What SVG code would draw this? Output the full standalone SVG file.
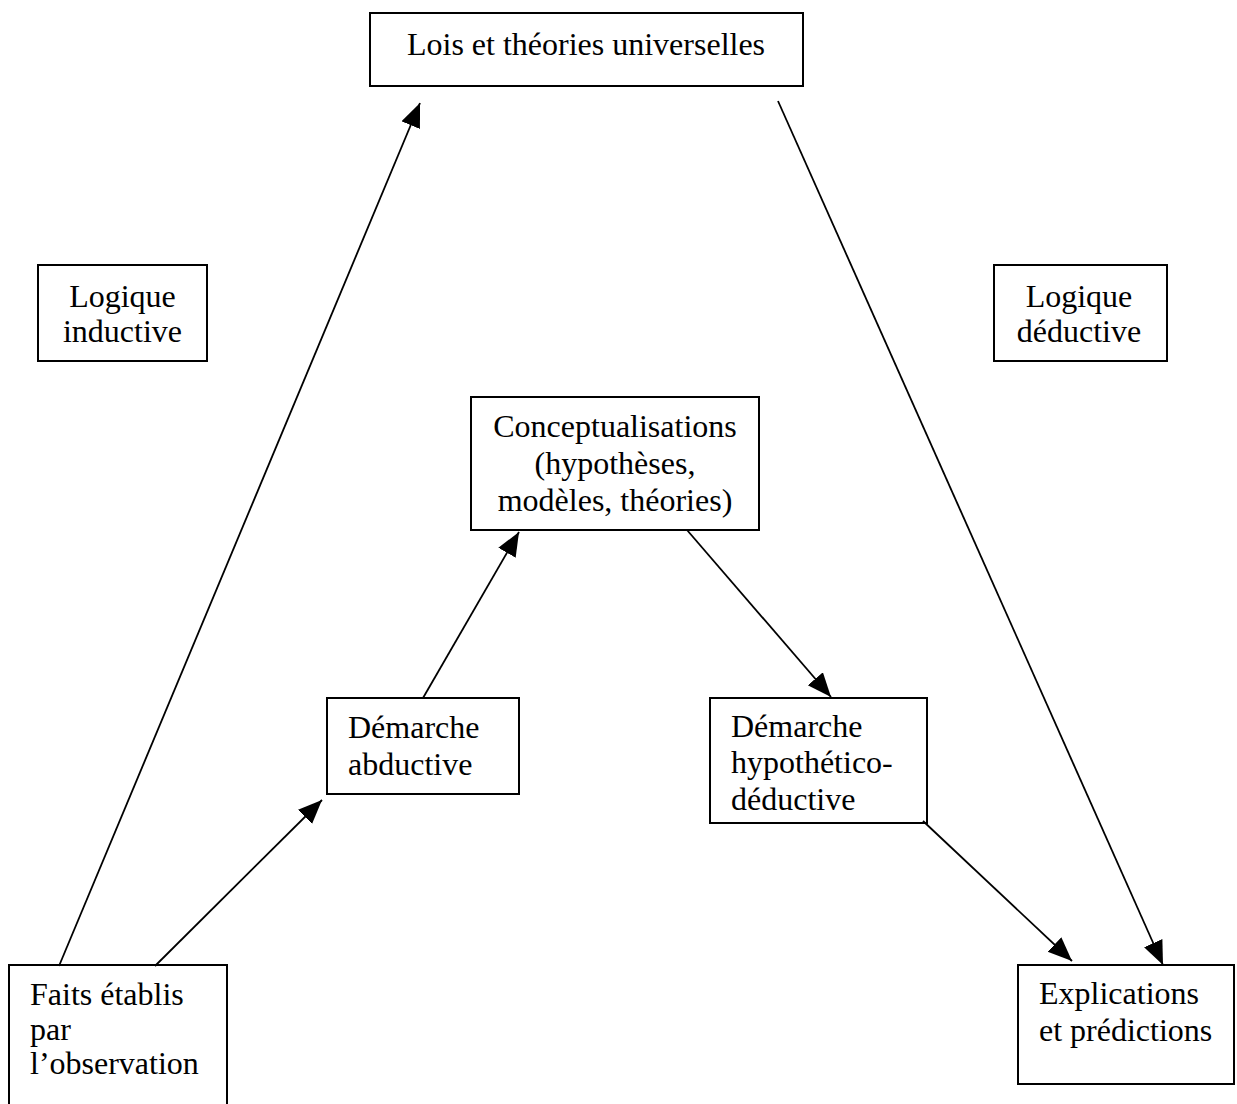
<svg xmlns="http://www.w3.org/2000/svg" width="1237" height="1104" viewBox="0 0 1237 1104">
  <style>
    .box { fill: #ffffff; stroke: #000000; stroke-width: 2; }
    .lbl { font-family: "Liberation Serif", "Times New Roman", serif; font-size: 32px; fill: #000000; }
    .mid { text-anchor: middle; }
    .edge { stroke: #000000; stroke-width: 1.8; fill: none; marker-end: url(#head); }
  </style>
  <defs>
    <!-- solid triangular arrowhead, tip at the end point of each line -->
    <marker id="head" markerUnits="userSpaceOnUse" markerWidth="26" markerHeight="22" refX="24" refY="10" orient="auto">
      <path d="M0,0 L24,10 L0,20 Z" fill="#000000"/>
    </marker>
  </defs>
  <rect width="1237" height="1104" fill="#ffffff"/>

  <g id="lois">
    <rect class="box" x="370" y="13" width="433" height="73"/>
    <text class="lbl mid" x="586" y="55">Lois et théories universelles</text>
  </g>

  <g id="logique-inductive">
    <rect class="box" x="38" y="265" width="169" height="96"/>
    <text class="lbl mid" x="122.5" y="307">Logique</text>
    <text class="lbl mid" x="122.5" y="342">inductive</text>
  </g>

  <g id="logique-deductive">
    <rect class="box" x="994" y="265" width="173" height="96"/>
    <text class="lbl mid" x="1079" y="307">Logique</text>
    <text class="lbl mid" x="1079" y="342">déductive</text>
  </g>

  <g id="conceptualisations">
    <rect class="box" x="471" y="397" width="288" height="133"/>
    <text class="lbl mid" x="615" y="437">Conceptualisations</text>
    <text class="lbl mid" x="615" y="474">(hypothèses,</text>
    <text class="lbl mid" x="615" y="511">modèles, théories)</text>
  </g>

  <g id="abductive">
    <rect class="box" x="327" y="698" width="192" height="96"/>
    <text class="lbl" x="348" y="738">Démarche</text>
    <text class="lbl" x="348" y="775">abductive</text>
  </g>

  <g id="hypothetico-deductive">
    <rect class="box" x="710" y="698" width="217" height="125"/>
    <text class="lbl" x="731" y="737">Démarche</text>
    <text class="lbl" x="731" y="773">hypothético-</text>
    <text class="lbl" x="731" y="810">déductive</text>
  </g>

  <g id="faits">
    <rect class="box" x="9" y="965" width="218" height="150"/>
    <text class="lbl" x="30" y="1005">Faits établis</text>
    <text class="lbl" x="30" y="1040">par</text>
    <text class="lbl" x="30" y="1074">l’observation</text>
  </g>

  <g id="explications">
    <rect class="box" x="1018" y="965" width="216" height="119"/>
    <text class="lbl" x="1039" y="1004">Explications</text>
    <text class="lbl" x="1039" y="1041">et prédictions</text>
  </g>

  <g id="connectors">
    <line class="edge" x1="59" y1="966" x2="420" y2="103"/>
    <line class="edge" x1="778" y1="101" x2="1163" y2="965"/>
    <line class="edge" x1="155" y1="966" x2="322" y2="800"/>
    <line class="edge" x1="423" y1="698" x2="519" y2="532"/>
    <line class="edge" x1="687" y1="530" x2="831" y2="697"/>
    <line class="edge" x1="923" y1="821" x2="1072" y2="961"/>
  </g>
</svg>
